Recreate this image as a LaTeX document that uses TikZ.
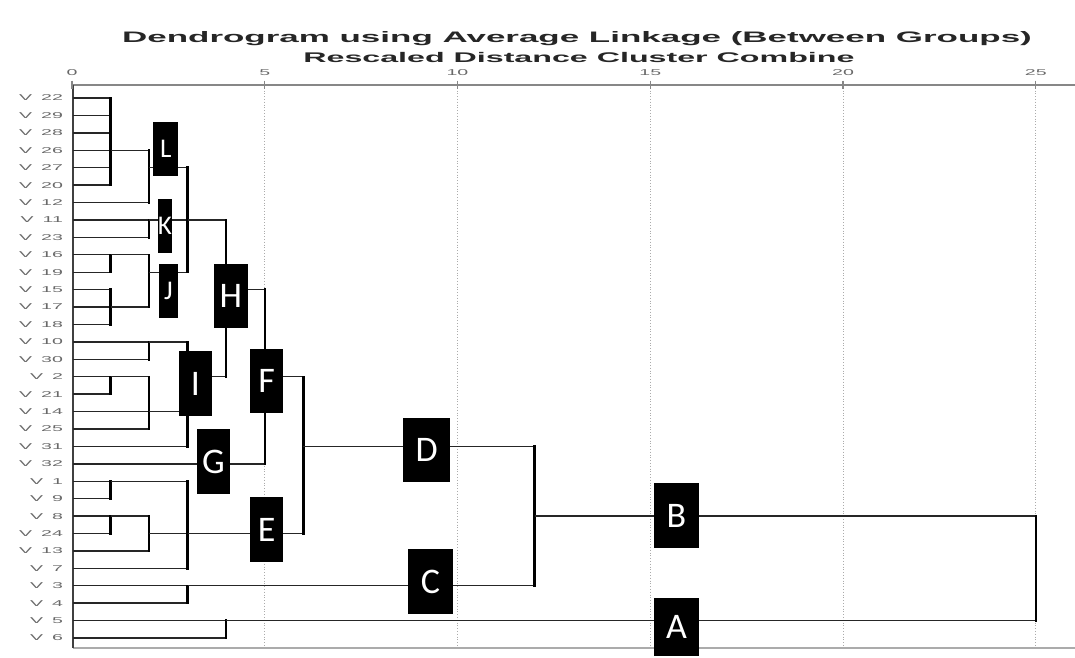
\documentclass[tikz,border=0pt]{standalone}
\usepackage{fontspec}
\usepackage{xcolor}
\usepackage{tikz}
\newfontfamily\spssfont[FakeStretch=2.3]{Liberation Sans}
\newfontfamily\tagfont{Carlito}
\definecolor{axisgray}{RGB}{135,135,135}
\definecolor{labelgray}{RGB}{105,105,105}

\begin{document}
\begin{tikzpicture}[
			x=38.55pt, y=-17.42pt,
			heading/.style={font=\spssfont\bfseries\fontsize{14}{14}\selectfont, text=black!85, inner sep=0pt},
			rowlabel/.style={anchor=east, font=\spssfont\fontsize{8.5}{8.5}\selectfont, text=labelgray, inner sep=0pt},
			ticklabel/.style={font=\spssfont\fontsize{8.5}{8.5}\selectfont, text=labelgray, inner sep=0pt},
			hlink/.style={line width=1.4pt, black!85},
			vlink/.style={line width=2.4pt, black, line cap=rect},
			gridline/.style={axisgray!70, dotted, line width=0.8pt},
			clusterbox/.style={fill=black, text=white, inner sep=0pt, minimum width=33pt, minimum height=65pt, font=\tagfont\fontsize{36}{36}\selectfont},
			smallbox/.style={clusterbox, minimum height=54pt, font=\tagfont\fontsize{27}{27}\selectfont}
		]
		\useasboundingbox (-1.8677,-5.6257) rectangle (26.0182,32.0896);

		% Titles
		\node[heading, font=\spssfont\bfseries\fontsize{15.2}{15.2}\selectfont] (title) at (13.1,-3.42) {Dendrogram using Average Linkage (Between Groups)};
		\node[heading] (subtitle) at (13.15,-2.33) {Rescaled Distance Cluster Combine};

		% Axis, ticks and grid
		\draw[gridline] (5,-0.75) -- (5,31.57) (10,-0.75) -- (10,31.57) (15,-0.75) -- (15,31.57)
			(20,-0.75) -- (20,31.57) (25,-0.75) -- (25,31.57);
		\draw[axisgray, line width=1.5pt] (-0.03,-0.75) -- (26.02,-0.75);
		\draw[axisgray!70, line width=1.2pt] (0.03,31.57) -- (26.02,31.57);
		\draw[black!75, line width=1.5pt] (0.03,-0.75) -- (0.03,31.57);
		\foreach \d in {0,5,10,15,20,25} {
			\draw[axisgray, line width=1.4pt] (\d,-1.0) -- (\d,-0.5);
			\node[ticklabel] (tick\d) at (\d,-1.44) {\d};
		}

		% Case labels and leaf lines
		\foreach \v/\d [count=\r from 0] in {22/1,29/1,28/1,26/1,27/1,20/1,12/2,11/2,23/2,16/1,19/1,15/1,17/1,18/1,
			10/2,30/2,2/1,21/1,14/2,25/2,31/3,32/5,1/1,9/1,8/1,24/1,13/2,7/3,3/3,4/3,5/4,6/4} {
			\node[rowlabel] (v\v) at (-0.23,\r) {V\hspace{9pt}\v};
			\draw[hlink] (0.03,\r) -- (\d,\r);
		}

		% L cluster
		\draw[vlink] (1,0) -- (1,5);
		\draw[hlink] (1,3) -- (2,3);
		\draw[vlink] (2,3) -- (2,6);
		\draw[hlink] (2,4) -- (3,4);
		% K cluster
		\draw[vlink] (2,7) -- (2,8);
		\draw[hlink] (2,7) -- (3,7);
		% J cluster
		\draw[vlink] (1,9) -- (1,10);
		\draw[vlink] (1,11) -- (1,13);
		\draw[hlink] (1,9) -- (2,9) (1,12) -- (2,12);
		\draw[vlink] (2,9) -- (2,12);
		\draw[hlink] (2,10) -- (3,10);
		\draw[vlink] (3,4) -- (3,10);
		\draw[hlink] (3,7) -- (4,7);
		% I cluster
		\draw[vlink] (2,14) -- (2,15);
		\draw[hlink] (2,14) -- (3,14);
		\draw[vlink] (1,16) -- (1,17);
		\draw[hlink] (1,16) -- (2,16);
		\draw[vlink] (2,16) -- (2,19);
		\draw[hlink] (2,18) -- (3,18);
		\draw[vlink] (3,14) -- (3,20);
		\draw[hlink] (3,16) -- (4,16);
		% H, G and F
		\draw[vlink] (4,7) -- (4,16);
		\draw[hlink] (4,11) -- (5,11);
		\draw[vlink] (5,11) -- (5,21);
		\draw[hlink] (5,16) -- (6,16);
		% E cluster
		\draw[vlink] (1,22) -- (1,23);
		\draw[hlink] (1,22) -- (3,22);
		\draw[vlink] (1,24) -- (1,25);
		\draw[hlink] (1,24) -- (2,24);
		\draw[vlink] (2,24) -- (2,26);
		\draw[hlink] (2,25) -- (3,25);
		\draw[vlink] (3,22) -- (3,27);
		\draw[hlink] (3,25) -- (6,25);
		% D, C and B
		\draw[vlink] (6,16) -- (6,25);
		\draw[hlink] (6,20) -- (12,20);
		\draw[vlink] (3,28) -- (3,29);
		\draw[hlink] (3,28) -- (12,28);
		\draw[vlink] (12,20) -- (12,28);
		\draw[hlink] (12,24) -- (25,24);
		% A cluster
		\draw[vlink] (4,30) -- (4,31);
		\draw[hlink] (4,30) -- (25,30);
		\draw[vlink] (25,24) -- (25,30);

		% Cluster letters
		\node[smallbox, minimum width=25pt] (L) at (2.43,2.93) {L};
		\node[smallbox, minimum width=14pt] (K) at (2.41,7.35) {K};
		\node[smallbox, minimum width=19pt] (J) at (2.50,11.08) {J};
		\node[clusterbox, minimum width=34pt, minimum height=64pt] (H) at (4.12,11.37) {H};
		\node[clusterbox] (I) at (3.20,16.39) {I};
		\node[clusterbox, minimum height=64pt] (F) at (5.05,16.25) {F};
		\node[clusterbox] (G) at (3.67,20.87) {G};
		\node[clusterbox] (E) at (5.05,24.77) {E};
		\node[clusterbox, minimum width=47pt, minimum height=64pt] (D) at (9.20,20.21) {D};
		\node[clusterbox, minimum width=45pt] (C) at (9.30,27.76) {C};
		\node[clusterbox, minimum width=45pt] (B) at (15.68,23.97) {B};
		\node[clusterbox, minimum width=45pt, minimum height=58pt] (A) at (15.68,30.39) {A};

	\end{tikzpicture}
\end{document}
